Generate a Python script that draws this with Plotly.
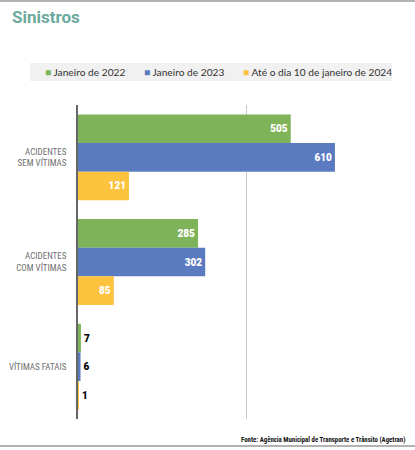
import plotly.graph_objects as go

categories = ["ACIDENTES<br>SEM VÍTIMAS", "ACIDENTES<br>COM VÍTIMAS", "VÍTIMAS FATAIS"]
series_names = ["Janeiro de 2022", "Janeiro de 2023", "Até o dia 10 de janeiro de 2024"]
values_2022 = [505, 285, 7]
values_2023 = [610, 302, 6]
values_2024 = [121, 85, 1]
colors = ["#7fb35a", "#5b7bc0", "#fdc23e"]

W, H = 415, 450
L, R, T, B = 78, 0, 105, 31
PW, PH = W - L - R, H - T - B

def px(xp):
    return (xp - L) / PW

def py(yp):
    return (H - B - yp) / PH

fig = go.Figure()
for name, vals, col in zip(series_names, [values_2022, values_2023, values_2024], colors):
    fig.add_trace(go.Bar(
        y=categories, x=vals, name=name, orientation="h",
        marker=dict(color=col, line=dict(width=0)),
        text=[str(v) for v in vals], textposition="auto",
        insidetextanchor="end",
        insidetextfont=dict(color="white", size=10, family="Roboto", weight=900),
        outsidetextfont=dict(color="black", size=10, family="Roboto", weight=900),
        textangle=0, constraintext="none", cliponaxis=False,
        showlegend=False, hoverinfo="skip",
    ))

fig.update_layout(
    width=W, height=H,
    margin=dict(l=L, r=R, t=T, b=B, autoexpand=False),
    paper_bgcolor="white", plot_bgcolor="white",
    barmode="group", bargap=0.18, bargroupgap=0,
    font=dict(family="Lato", color="#555"),
    xaxis=dict(range=[0, 800], dtick=400, showgrid=True, gridcolor="#c8c8c8",
               gridwidth=1, showticklabels=False, zeroline=False,
               showline=False, ticks=""),
    yaxis=dict(autorange="reversed", showline=True, linecolor="#666", linewidth=1.5,
               ticks="", ticklabelstandoff=8,
               tickfont=dict(family="Liberation Sans Narrow, Roboto Condensed, Lato", size=9, color="#707070")),
)

shapes = [
    dict(type="line", xref="paper", yref="paper", x0=px(0), x1=px(W), y0=py(1), y1=py(1),
         line=dict(color="#9a9a9a", width=1.5)),
    dict(type="line", xref="paper", yref="paper", x0=px(0), x1=px(W), y0=py(446), y1=py(446),
         line=dict(color="#9a9a9a", width=1.5)),
    dict(type="rect", xref="paper", yref="paper", x0=px(30), x1=px(392), y0=py(81), y1=py(63),
         fillcolor="#f1f1f1", line=dict(width=0), layer="below"),
]

annotations = [
    dict(text="<b>Sinistros</b>", xref="paper", yref="paper", x=px(10), y=py(17),
         xanchor="left", yanchor="middle", showarrow=False,
         font=dict(family="Roboto", size=17, color="#6aa99b", weight=900)),
    dict(text="Fonte: Agência Municipal de Transporte e Trânsito (Agetran)", xref="paper", yref="paper",
         x=px(407), y=py(440), xanchor="right", yanchor="middle", showarrow=False,
         font=dict(family="Roboto Condensed, Liberation Sans Narrow, Roboto", size=6.8, color="#111", weight=700)),
]
legend_x = [43, 142, 241]
for name, col, lx in zip(series_names, colors, legend_x):
    annotations.append(dict(
        text=f'<span style="color:{col}">■</span> {name}', xref="paper", yref="paper",
        x=px(lx), y=py(72), xanchor="left", yanchor="middle", showarrow=False,
        font=dict(family="Lato", size=10.2, color="#333")))

fig.update_layout(shapes=shapes, annotations=annotations)
fig.write_html("out.html", config={"displayModeBar": False},
               post_script="document.body.style.margin='0';document.body.style.overflow='hidden';")
